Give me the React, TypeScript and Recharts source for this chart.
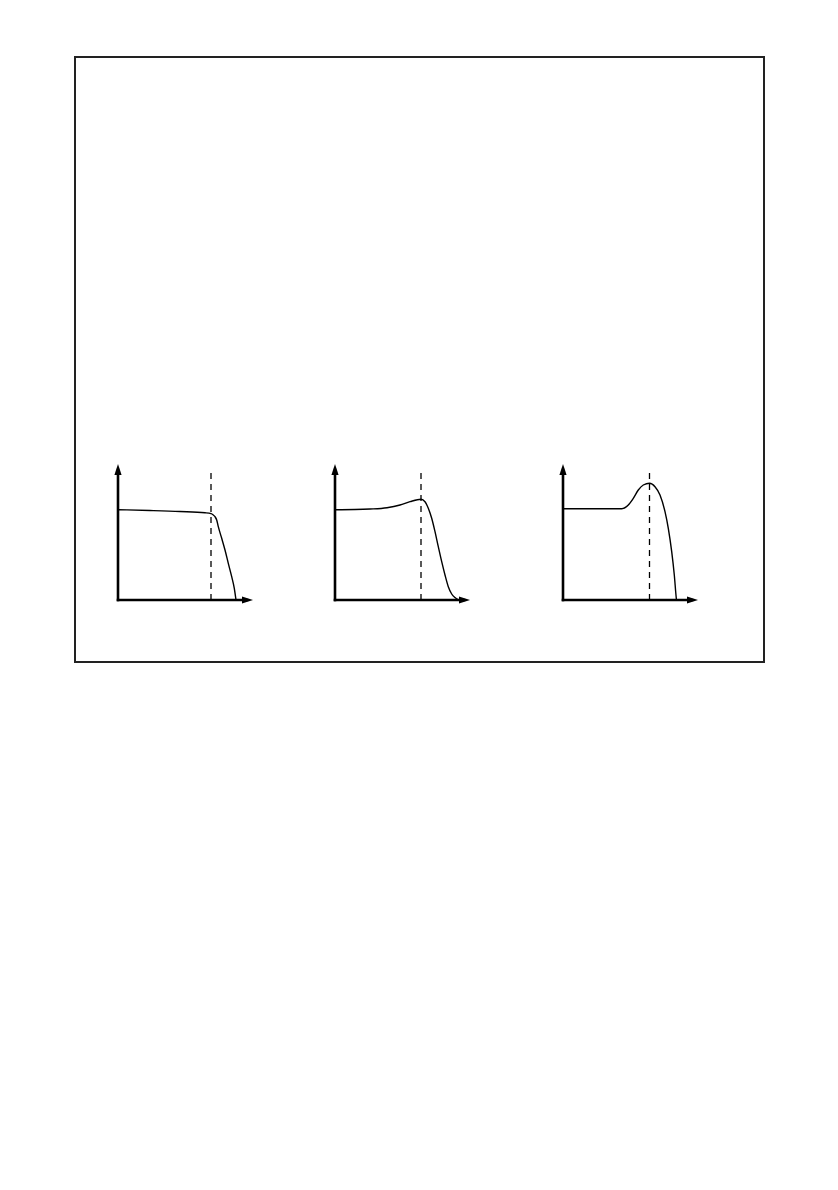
import React from 'react';
import { LineChart, Line, XAxis, YAxis, ReferenceLine, ReferenceDot } from 'recharts';

// Three frequency-response sketches (flat, slight peak, resonant peak)
// units: x = distance along the horizontal axis, y = height above it

const flatResponse = [
  { x: 0, y: 90.3 },
  { x: 32, y: 89.5 },
  { x: 62, y: 88.5 },
  { x: 87, y: 87.2 },
  { x: 93, y: 86.3 },
  { x: 95, y: 85.2 },
  { x: 97, y: 83.3 },
  { x: 98.7, y: 80 },
  { x: 100.3, y: 73.3 },
  { x: 103.7, y: 61.7 },
  { x: 107, y: 50 },
  { x: 110.3, y: 36.7 },
  { x: 113.7, y: 23.3 },
  { x: 116.3, y: 11.7 },
  { x: 118, y: 0 },
];

const slightPeakResponse = [
  { x: 0, y: 90.3 },
  { x: 20, y: 90.5 },
  { x: 35, y: 91 },
  { x: 52, y: 92.3 },
  { x: 65, y: 95 },
  { x: 75, y: 98.3 },
  { x: 86, y: 100.7 },
  { x: 90, y: 98.3 },
  { x: 93.3, y: 91.7 },
  { x: 96.7, y: 81.7 },
  { x: 100, y: 68.3 },
  { x: 103.3, y: 53.3 },
  { x: 106.7, y: 38.3 },
  { x: 110, y: 25 },
  { x: 113.3, y: 13.3 },
  { x: 116.7, y: 6 },
  { x: 120, y: 2.4 },
  { x: 123, y: 0.3 },
];

const resonantResponse = [
  { x: 0, y: 91.3 },
  { x: 30, y: 91.3 },
  { x: 58.7, y: 91.3 },
  { x: 65.3, y: 95 },
  { x: 70.3, y: 101.7 },
  { x: 75.3, y: 110 },
  { x: 80.3, y: 115 },
  { x: 86.5, y: 116.7 },
  { x: 92, y: 113.3 },
  { x: 97, y: 105 },
  { x: 102, y: 88.3 },
  { x: 105.3, y: 71.7 },
  { x: 108.7, y: 48.3 },
  { x: 111.3, y: 25 },
  { x: 113.3, y: 1.7 },
  { x: 113.5, y: 0 },
];

// cutoff (dashed marker) position for each sketch
const cutoffs = [93, 86, 86.5];
// page position of each sketch's origin
const originsX = [118, 335, 563];

const X_MAX = 135;
const Y_MAX = 136;
const DASH_TOP = 127;
const PAD = 10;

const ArrowRight = (props: any) => {
  const { cx, cy } = props;
  return <polygon points={`${cx},${cy} ${cx - 11},${cy - 3.6} ${cx - 11},${cy + 3.6}`} fill="#000" />;
};

const ArrowUp = (props: any) => {
  const { cx, cy } = props;
  return <polygon points={`${cx},${cy} ${cx - 3.6},${cy + 11} ${cx + 3.6},${cy + 11}`} fill="#000" />;
};

const Sketch = ({ data, cutoff, left }: { data: { x: number; y: number }[]; cutoff: number; left: number }) => (
  <div style={{ position: 'absolute', left: left - PAD, top: 600 - Y_MAX - PAD }}>
    <LineChart
      width={X_MAX + 2 * PAD}
      height={Y_MAX + 2 * PAD}
      data={data}
      margin={{ top: PAD, right: PAD, bottom: PAD, left: PAD }}
    >
      <XAxis type="number" dataKey="x" domain={[0, X_MAX]} hide />
      <YAxis type="number" domain={[0, Y_MAX]} hide />
      <ReferenceLine
        segment={[{ x: cutoff, y: 0 }, { x: cutoff, y: DASH_TOP }]}
        stroke="#000"
        strokeWidth={1.3}
        strokeDasharray="6 5"
      />
      <Line
        type="monotone"
        dataKey="y"
        stroke="#000"
        strokeWidth={1.4}
        dot={false}
        activeDot={false}
        isAnimationActive={false}
      />
      <ReferenceLine
        segment={[{ x: 0, y: 0 }, { x: X_MAX - 6, y: 0 }]}
        stroke="#000"
        strokeWidth={2.6}
        strokeLinecap="square"
      />
      <ReferenceLine
        segment={[{ x: 0, y: 0 }, { x: 0, y: Y_MAX - 6 }]}
        stroke="#000"
        strokeWidth={2.6}
        strokeLinecap="square"
      />
      <ReferenceDot x={X_MAX} y={0} shape={ArrowRight} />
      <ReferenceDot x={0} y={Y_MAX} shape={ArrowUp} />
    </LineChart>
  </div>
);

export default function App() {
  return (
    <div style={{ position: 'absolute', left: 0, top: 0, width: 838, height: 1190, background: '#fff' }}>
      <div
        style={{
          position: 'absolute',
          left: 74,
          top: 56,
          width: 691,
          height: 607,
          border: '2px solid #222',
          boxSizing: 'border-box',
        }}
      />
      <Sketch data={flatResponse} cutoff={cutoffs[0]} left={originsX[0]} />
      <Sketch data={slightPeakResponse} cutoff={cutoffs[1]} left={originsX[1]} />
      <Sketch data={resonantResponse} cutoff={cutoffs[2]} left={originsX[2]} />
    </div>
  );
}
